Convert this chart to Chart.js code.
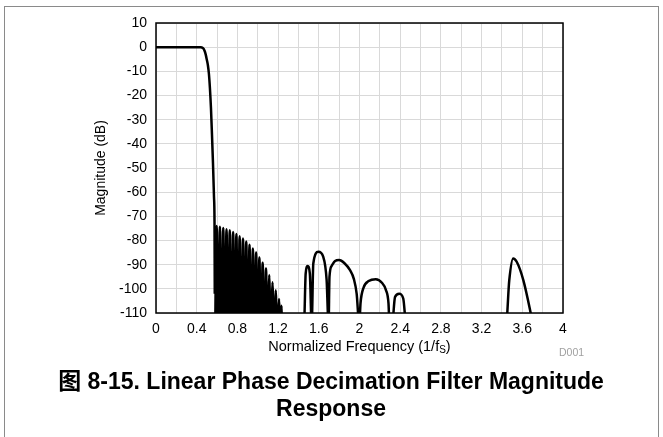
<!DOCTYPE html>
<html><head><meta charset="utf-8">
<script src="https://cdn.jsdelivr.net/npm/chart.js@4/dist/chart.umd.min.js"></script>
<style>
html,body{margin:0;padding:0;background:#fff;}
#wrap{position:relative;width:663px;height:437px;overflow:hidden;background:#fff;}
#frame{position:absolute;left:4px;top:6px;width:655px;height:460px;border:1px solid #8a8a8a;box-sizing:border-box;}
canvas{position:absolute;left:0;top:0;}
</style></head><body>
<div id="wrap"><div id="frame"></div><canvas id="c" width="663" height="437"></canvas></div>
<script>
// Passband and transition band
const transitionFreq = [0, 0.1, 0.2, 0.3, 0.4, 0.44, 0.46, 0.47, 0.48, 0.49, 0.5, 0.51, 0.52, 0.53, 0.54, 0.55, 0.56, 0.57, 0.575, 0.5775];
const transitionDb   = [0, 0, 0, 0, 0, 0, -0.3, -0.8, -1.8, -3.3, -5.3, -7.5, -11, -17, -25, -36, -48, -62, -72, -102];
// Dense stopband ripples (nulls fall below the axis)
const rippleFreq = [0.5785,0.596,0.612,0.628,0.645,0.661,0.677,0.693,0.709,0.725,0.742,0.758,0.774,0.790,0.806,0.822,0.839,0.855,0.871,0.887,0.903,0.919,0.935,0.952,0.968,0.984,1.000,1.016,1.032,1.048,1.065,1.081,1.097,1.113,1.129,1.145,1.161,1.177,1.193,1.209,1.225,1.233,1.242];
const rippleDb   = [-130,-74.0,-130,-74.3,-130,-74.8,-130,-75.3,-130,-75.8,-130,-76.5,-130,-77.3,-130,-78.2,-130,-79.2,-130,-80.4,-130,-81.8,-130,-83.3,-130,-85.0,-130,-87.0,-130,-89.2,-130,-91.6,-130,-94.3,-130,-97.3,-130,-100.6,-130,-104.2,-130,-107,-130];
// Larger image lobes
const lobeFreq = [1.455,1.471,1.490,1.512,1.530,1.546,1.595,1.644,1.677,1.696,1.705,1.727,1.76,1.80,1.85,1.907,1.945,1.972,1.998,2.01,2.04,2.09,2.16,2.22,2.26,2.285,2.295,2.32,2.349,2.39,2.43,2.46,3.44,3.472,3.51,3.545,3.61,3.708];
const lobeDb   = [-115,-93.7,-90.6,-93.7,-115,-89.5,-84.7,-86.8,-96.4,-115,-95,-90.5,-88.5,-88.1,-89.3,-92.3,-96,-102,-115,-106,-99.5,-96.8,-96,-97.5,-100.5,-106,-115,-115,-103.4,-102,-104,-115,-115,-96.4,-87.4,-88.8,-96.4,-115];
const xTickLabels = ['0','0.4','0.8','1.2','1.6','2','2.4','2.8','3.2','3.6','4'];
const yTickLabels = ['10','0','-10','-20','-30','-40','-50','-60','-70','-80','-90','-100','-110'];

const FONT = 'Arial, "Liberation Sans", "Noto Sans CJK SC", sans-serif';

function toPts(fx, fy){ return fx.map((x,i)=>({x:x, y:fy[i]})); }
const points = [].concat(
  toPts(transitionFreq, transitionDb),
  [{x:0.578, y:null}],
  toPts(rippleFreq, rippleDb),
  toPts(lobeFreq, lobeDb)
);

const framePlugin = {
  id:'frame',
  afterDatasetsDraw(chart){
    const {ctx, chartArea:a} = chart;
    ctx.save();
    ctx.strokeStyle = '#000';
    ctx.lineWidth = 1.5;
    ctx.strokeRect(a.left, a.top, a.right-a.left, a.bottom-a.top);
    ctx.restore();
  },
  afterDraw(chart){
    const {ctx, chartArea:a} = chart;
    ctx.save();
    ctx.fillStyle = '#000';
    // y title
    ctx.font = '14px ' + FONT;
    ctx.textAlign = 'center';
    ctx.textBaseline = 'middle';
    ctx.save();
    ctx.translate(101, (a.top + a.bottom)/2);
    ctx.rotate(-Math.PI/2);
    ctx.fillText('Magnitude (dB)', 0, 0);
    ctx.restore();
    // x title with subscript
    const p1 = 'Normalized Frequency (1/f', sub = 'S', p3 = ')';
    ctx.font = '14.5px ' + FONT;
    const w1 = ctx.measureText(p1).width, w3 = ctx.measureText(p3).width;
    ctx.font = '10px ' + FONT;
    const w2 = ctx.measureText(sub).width;
    let x0 = (a.left + a.right)/2 - (w1+w2+w3)/2;
    const yT = 347;
    ctx.textAlign = 'left';
    ctx.font = '14.5px ' + FONT;
    ctx.fillText(p1, x0, yT);
    ctx.font = '10px ' + FONT;
    ctx.fillText(sub, x0 + w1, yT + 3);
    ctx.font = '14.5px ' + FONT;
    ctx.fillText(p3, x0 + w1 + w2, yT);
    // D001
    ctx.fillStyle = '#a0a0a0';
    ctx.font = '10.5px ' + FONT;
    ctx.fillText('D001', 559, 353);
    // caption
    ctx.fillStyle = '#000';
    ctx.textAlign = 'center';
    ctx.font = 'bold 23px ' + FONT;
    ctx.fillText('图 8-15. Linear Phase Decimation Filter Magnitude', 331, 383);
    ctx.fillText('Response', 331, 410);
    ctx.restore();
  }
};

new Chart(document.getElementById('c'), {
  type:'line',
  data:{ datasets:[{
    data: points,
    borderColor:'#000',
    borderWidth:2.5,
    pointRadius:0,
    cubicInterpolationMode:'monotone',
    spanGaps:false,
    clip:0,
    fill:false
  }]},
  options:{
    responsive:false,
    devicePixelRatio:1,
    animation:false,
    layout:{padding:{top:23, right:100, left:0, bottom:0}},
    plugins:{legend:{display:false}, title:{display:false}, tooltip:{enabled:false}},
    scales:{
      x:{
        type:'linear', min:0, max:4,
        afterFit(s){ s.height = 124; },
        grid:{color:'#d9d9d9', lineWidth:1, drawTicks:false},
        border:{display:false},
        ticks:{stepSize:0.2, autoSkip:false, maxRotation:0, padding:8, color:'#000',
          font:{family:FONT, size:14},
          callback(v){ const k = Math.round(v*10); return k % 4 === 0 ? xTickLabels[k/4] : ''; }
        }
      },
      y:{
        type:'linear', min:-110, max:10,
        afterFit(s){ s.width = 156; },
        grid:{color:'#d9d9d9', lineWidth:1, drawTicks:false},
        border:{display:false},
        ticks:{stepSize:10, padding:9, color:'#000',
          font:{family:FONT, size:14},
          callback(v){ const k = Math.round((10 - v)/10); return yTickLabels[k]; }
        }
      }
    }
  },
  plugins:[framePlugin]
});
</script>
</body></html>
